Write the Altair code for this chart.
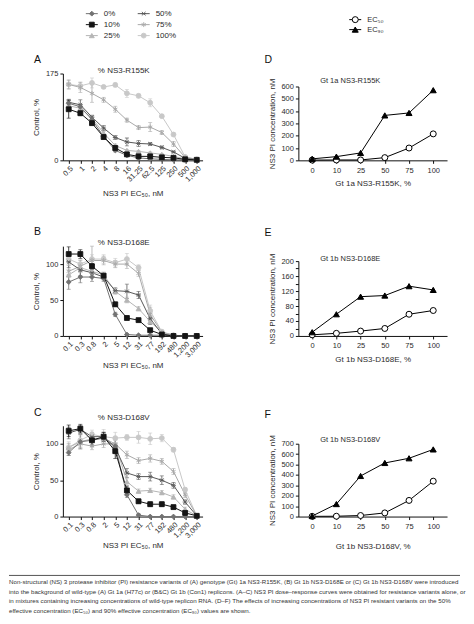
import altair as alt
import pandas as pd

FONT = "Liberation Sans"
TXT = "#2b2b2b"

# ---------------- data ----------------
series = ["0%", "10%", "25%", "50%", "75%", "100%"]
series_colors = ["#727272", "#141414", "#b5b5b5", "#585858", "#a9a9a9", "#c8c8c8"]
X_BAR = "M-0.75,-0.75L0.75,0.75M-0.75,0.75L0.75,-0.75M-1,0L1,0"
ASTER = "M0,-1L0,1M-0.87,-0.5L0.87,0.5M-0.87,0.5L0.87,-0.5"
series_shapes = ["diamond", "square", "triangle-up", X_BAR, ASTER, "circle"]
legend_col = [0, 0, 0, 1, 1, 1]
legend_row = [0, 1, 2, 0, 1, 2]

conc_a = ["0.5", "1", "2", "4", "8", "16", "31.25", "62.5", "125", "250", "500", "1,000"]
conc_bc = ["0.1", "0.3", "0.8", "2", "5", "12", "31", "77", "192", "480", "1,200", "3,000"]

# Panel A: % NS3-R155K
a_0 = [115, 108, 82, 48, 20, 10, 5, 3, 2, 1, 1, 0]
a_10 = [103, 95, 75, 47, 25, 12, 8, 8, 6, 5, 2, 1]
a_25 = [110, 105, 85, 55, 30, 20, 18, 15, 12, 8, 3, 1]
a_50 = [117, 112, 87, 65, 46, 37, 34, 33, 26, 17, 4, 1]
a_75 = [153, 147, 135, 122, 103, 81, 66, 67, 56, 33, 6, 2]
a_100 = [153, 150, 156, 148, 152, 135, 130, 116, 89, 52, 7, 2]
a_err_0 = [8, 5, 3, 3, 3, 2, 1, 1, 1, 1, 1, 0]
a_err_10 = [18, 5, 4, 4, 3, 2, 2, 2, 2, 1, 1, 0]
a_err_25 = [6, 4, 4, 3, 3, 2, 2, 2, 2, 1, 1, 0]
a_err_50 = [6, 10, 4, 5, 4, 8, 6, 3, 3, 2, 1, 0]
a_err_75 = [8, 10, 18, 5, 6, 4, 4, 9, 4, 5, 2, 1]
a_err_100 = [10, 8, 10, 3, 4, 8, 4, 8, 3, 3, 2, 1]

# Panel B: % NS3-D168E
b_0 = [75, 82, 82, 80, 30, 2, 1, 1, 1, 0, 0, 0]
b_10 = [114, 114, 97, 84, 44, 25, 22, 8, 2, 0, 0, 0]
b_25 = [85, 95, 90, 85, 62, 50, 38, 20, 5, 1, 0, 0]
b_50 = [103, 92, 88, 82, 63, 62, 57, 24, 3, 0, 0, 0]
b_75 = [90, 97, 105, 105, 100, 100, 87, 30, 5, 1, 0, 0]
b_100 = [107, 100, 107, 107, 102, 107, 95, 35, 6, 1, 0, 0]
b_err_0 = [10, 8, 6, 4, 3, 1, 1, 1, 1, 0, 0, 0]
b_err_10 = [10, 6, 4, 3, 3, 2, 2, 2, 1, 0, 0, 0]
b_err_25 = [8, 6, 5, 4, 4, 4, 3, 3, 1, 0, 0, 0]
b_err_50 = [8, 8, 6, 4, 4, 10, 5, 8, 2, 0, 0, 0]
b_err_75 = [8, 8, 20, 6, 5, 6, 4, 10, 2, 0, 0, 0]
b_err_100 = [8, 6, 6, 6, 6, 8, 4, 8, 2, 0, 0, 0]

# Panel C: % NS3-D168V
c_0 = [88, 103, 105, 108, 97, 30, 2, 0, 0, 0, 0, 0]
c_10 = [118, 121, 105, 110, 90, 36, 21, 17, 17, 13, 5, 1]
c_25 = [95, 103, 107, 108, 100, 48, 35, 36, 33, 27, 10, 1]
c_50 = [115, 120, 110, 110, 95, 60, 55, 55, 50, 43, 20, 1]
c_75 = [92, 100, 97, 100, 100, 85, 77, 80, 76, 62, 30, 1]
c_100 = [95, 105, 113, 110, 108, 109, 109, 107, 108, 92, 37, 1]
c_err_0 = [4, 10, 6, 4, 10, 4, 2, 1, 0, 0, 0, 0]
c_err_10 = [8, 6, 8, 6, 10, 6, 3, 3, 3, 2, 2, 1]
c_err_25 = [6, 8, 5, 5, 6, 5, 3, 3, 3, 3, 3, 1]
c_err_50 = [8, 5, 6, 6, 6, 6, 4, 6, 6, 4, 3, 1]
c_err_75 = [8, 6, 5, 5, 5, 5, 4, 5, 4, 4, 4, 1]
c_err_100 = [8, 8, 6, 10, 8, 4, 8, 8, 5, 3, 3, 1]

metrics = ["EC₅₀", "EC₉₀"]
pcts = ["0", "10", "25", "50", "75", "100"]
d_ec50 = [2, 3, 3, 22, 100, 215]
d_ec90 = [12, 30, 60, 365, 385, 570]
e_ec50 = [3, 7, 13, 20, 58, 68]
e_ec90 = [10, 58, 105, 108, 133, 123]
f_ec50 = [2, 3, 10, 35, 155, 340]
f_ec90 = [5, 120, 390, 515, 560, 645]

caption_lines = [
    "Non-structural (NS) 3 protease inhibitor (PI) resistance variants of (A) genotype (Gt) 1a NS3-R155K, (B) Gt 1b NS3-D168E or (C) Gt 1b NS3-D168V were introduced",
    "into the background of wild-type (A) Gt 1a (H77c) or (B&C) Gt 1b (Con1) replicons. (A–C) NS3 PI dose–response curves were obtained for resistance variants alone, or",
    "in mixtures containing increasing concentrations of wild-type replicon RNA. (D–F) The effects of increasing concentrations of NS3 PI resistant variants on the 50%",
    "effective concentration (EC₅₀) and 90% effective concentration (EC₉₀) values are shown.",
]

# ---------------- helpers ----------------
color_scale = alt.Scale(domain=series, range=series_colors)
shape_scale = alt.Scale(domain=series, range=series_shapes)
metric_fill = alt.Scale(domain=metrics, range=["white", "black"])
metric_shape = alt.Scale(domain=metrics, range=["circle", "triangle-up"])
draw_order = ["100%", "75%", "25%", "50%", "0%", "10%"]


def label_layer(letter, ldx, ldy, title, tx, ty, tsize):
    let = alt.Chart(pd.DataFrame({"t": [letter]})).mark_text(
        fontSize=10.5, align="left", baseline="middle", color="#111", font=FONT
    ).encode(text="t:N", x=alt.value(ldx), y=alt.value(ldy))
    ttl = alt.Chart(pd.DataFrame({"t": [title]})).mark_text(
        fontSize=tsize, align="center", baseline="middle", color=TXT, font=FONT
    ).encode(text="t:N", x=alt.value(tx), y=alt.value(ty))
    return let + ttl


def series_legend():
    leg_df = pd.DataFrame({"series": series, "col": legend_col, "row": legend_row})
    lx = alt.X("col:Q", scale=alt.Scale(domain=[0, 1], range=[29, 81]), axis=None)
    ly = alt.Y("row:Q", scale=alt.Scale(domain=[0, 2], range=[-60, -38]), axis=None)
    lbase = alt.Chart(leg_df)
    return alt.layer(
        lbase.mark_rule(strokeWidth=1, xOffset=-6, x2Offset=6).encode(
            x=lx, x2="col:Q", y=ly, color=alt.Color("series:N", scale=color_scale, legend=None)),
        lbase.mark_point(filled=True, size=24, strokeWidth=0.9, opacity=1).encode(
            x=lx, y=ly,
            fill=alt.Fill("series:N", scale=color_scale, legend=None),
            stroke=alt.Stroke("series:N", scale=color_scale, legend=None),
            shape=alt.Shape("series:N", scale=shape_scale, legend=None)),
        lbase.mark_text(align="left", baseline="middle", dx=12, fontSize=8, font=FONT, color=TXT).encode(
            x=lx, y=ly, text="series:N"),
    )


def metric_legend():
    leg_df = pd.DataFrame({"metric": metrics, "col": [0, 0], "row": [0, 1]})
    rx = alt.X("col:Q", scale=alt.Scale(domain=[0, 1], range=[57, 100]), axis=None)
    ry = alt.Y("row:Q", scale=alt.Scale(domain=[0, 1], range=[-54, -44]), axis=None)
    rbase = alt.Chart(leg_df)
    return alt.layer(
        rbase.mark_rule(strokeWidth=1, color="black", xOffset=-6, x2Offset=6).encode(x=rx, x2="col:Q", y=ry),
        rbase.mark_point(filled=True, size=36, stroke="black", strokeWidth=1, opacity=1).encode(
            x=rx, y=ry,
            fill=alt.Fill("metric:N", scale=metric_fill, legend=None),
            shape=alt.Shape("metric:N", scale=metric_shape, legend=None)),
        rbase.mark_text(align="left", baseline="middle", dx=12, fontSize=7.5, font=FONT, color=TXT).encode(
            x=rx, y=ry, text="metric:N"),
    )


def dose_panel(letter, title, concs, values, errors, ymax, height, letter_y, title_y, xtitle_y, legend=False):
    rows = []
    for s, vals, errs in zip(series, values, errors):
        for i, (c, v, e) in enumerate(zip(concs, vals, errs)):
            rows.append({"conc": c, "series": s, "y": v, "lo": max(v - e, 0), "hi": v + e,
                         "i": i, "z": draw_order.index(s), "err": e})
    df = pd.DataFrame(rows).sort_values(["z", "i"])
    base = alt.Chart(df)
    x = alt.X("conc:N", sort=concs, scale=alt.Scale(type="point", padding=0.5),
              axis=alt.Axis(title="NS3 PI EC₅₀, nM", labelAngle=-45, labelOverlap=False,
                            labelPadding=1, titleY=xtitle_y, titleBaseline="middle"))
    y = alt.Y("y:Q", scale=alt.Scale(domain=[0, ymax], nice=False),
              axis=alt.Axis(values=list(range(0, ymax + 1, 25)), title="Control, %", titlePadding=5))
    col = alt.Color("series:N", scale=color_scale, legend=None)
    errs = base.transform_filter("datum.err > 0")
    err_rule = errs.mark_rule(strokeWidth=0.8).encode(x=x, y="lo:Q", y2="hi:Q", color=col)
    cap_lo = errs.mark_tick(size=4, thickness=0.8).encode(x=x, y="lo:Q", color=col)
    cap_hi = errs.mark_tick(size=4, thickness=0.8).encode(x=x, y="hi:Q", color=col)
    line = base.mark_line(strokeWidth=1).encode(x=x, y=y, color=col, order="i:Q")
    pts = base.mark_point(filled=True, size=24, strokeWidth=0.9, opacity=1).encode(
        x=x, y=y,
        fill=alt.Fill("series:N", scale=color_scale, legend=None),
        stroke=alt.Stroke("series:N", scale=color_scale, legend=None),
        shape=alt.Shape("series:N", scale=shape_scale, legend=None),
        order="z:Q",
    )
    core = alt.layer(err_rule, cap_lo, cap_hi, line, pts,
                     label_layer(letter, -29, letter_y, title, 61, title_y, 8))
    if legend:
        core = alt.layer(core, series_legend()).resolve_scale(x="independent", y="independent")
    return core.properties(width=140, height=height)


def ec_panel(letter, title, xtitle, ec50, ec90, ymax, ystep, height, top, letter_y, title_y, xtitle_y,
             legend=False):
    rows = []
    for m, vals in zip(metrics, [ec50, ec90]):
        for i, (p, v) in enumerate(zip(pcts, vals)):
            rows.append({"pct": p, "metric": m, "v": v, "i": i})
    df = pd.DataFrame(rows)
    base = alt.Chart(df)
    x = alt.X("pct:N", sort=pcts, scale=alt.Scale(type="point", padding=0.57),
              axis=alt.Axis(title=xtitle, labelAngle=0, labelPadding=3, titleY=xtitle_y, titleBaseline="middle"))
    y = alt.Y("v:Q", scale=alt.Scale(domain=[0, ymax], nice=False, range=[height, top]),
              axis=alt.Axis(values=list(range(0, ymax + 1, ystep)), title="NS3 PI concentration, nM",
                            titlePadding=4))
    line = base.mark_line(color="black", strokeWidth=1).encode(x=x, y=y, detail="metric:N", order="i:Q")
    pts = base.mark_point(filled=True, size=36, stroke="black", strokeWidth=1, opacity=1).encode(
        x=x, y=y,
        fill=alt.Fill("metric:N", scale=metric_fill, legend=None),
        shape=alt.Shape("metric:N", scale=metric_shape, legend=None),
    )
    core = alt.layer(line, pts, label_layer(letter, -34, letter_y, title, 52, title_y, 7.5))
    if legend:
        core = alt.layer(core, metric_legend()).resolve_scale(x="independent", y="independent")
    return core.properties(width=149, height=height)


# ---------------- panels ----------------
pA = dose_panel("A", "% NS3-R155K", conc_a, [a_0, a_10, a_25, a_50, a_75, a_100],
                [a_err_0, a_err_10, a_err_25, a_err_50, a_err_75, a_err_100], 175, 87, -14, -3, 33, legend=True)
pB = dose_panel("B", "% NS3-D168E", conc_bc, [b_0, b_10, b_25, b_50, b_75, b_100],
                [b_err_0, b_err_10, b_err_25, b_err_50, b_err_75, b_err_100], 125, 90, -14, -3, 30)
pC = dose_panel("C", "% NS3-D168V", conc_bc, [c_0, c_10, c_25, c_50, c_75, c_100],
                [c_err_0, c_err_10, c_err_25, c_err_50, c_err_75, c_err_100], 125, 91, -13, -8, 29)

pD = ec_panel("D", "Gt 1a NS3-R155K", "Gt 1a NS3-R155K, %", d_ec50, d_ec90, 600, 100, 87, 13, -14, 8, 23,
              legend=True)
pE = ec_panel("E", "Gt 1b NS3-D168E", "Gt 1b NS3-D168E, %", e_ec50, e_ec90, 200, 20, 75, 0, -28, -2, 24)
pF = ec_panel("F", "Gt 1b NS3-D168V", "Gt 1b NS3-D168V, %", f_ec50, f_ec90, 700, 100, 73, 0, -29, -4, 30)

left_col = alt.vconcat(pA, alt.vconcat(pB, pC, spacing=38), spacing=30)
right_col = alt.vconcat(pD, alt.vconcat(pE, pF, spacing=46), spacing=41)
panels = alt.hconcat(left_col, right_col, spacing=62).resolve_scale(
    color="independent", fill="independent", stroke="independent", shape="independent")

cap_df = pd.DataFrame({"line": caption_lines, "k": list(range(len(caption_lines)))})
caption = alt.layer(
    alt.Chart(pd.DataFrame({"a": [0]})).mark_rule(color="#555", strokeWidth=1).encode(
        x=alt.value(-54), x2=alt.value(398), y=alt.value(0)),
    alt.Chart(cap_df).mark_text(align="left", baseline="middle", fontSize=6.2, font=FONT, color="#333").encode(
        x=alt.value(-54), y=alt.Y("k:Q", scale=alt.Scale(domain=[0, 3], range=[7, 35.5]), axis=None),
        text="line:N"),
).properties(width=390, height=38)

chart = alt.vconcat(panels, caption, spacing=24).resolve_scale(
    color="independent", fill="independent", stroke="independent", shape="independent"
).properties(padding=0).configure_view(stroke=None).configure_axis(
    grid=False, labelFont=FONT, titleFont=FONT, labelFontSize=7.5, titleFontSize=8,
    labelColor=TXT, titleColor=TXT, titleFontWeight="normal", domainColor="#111", tickColor="#111",
    tickSize=3, domainWidth=1, tickWidth=1,
).configure_text(font=FONT)

chart.save("out.html", embed_options={"renderer": "svg", "actions": False})
